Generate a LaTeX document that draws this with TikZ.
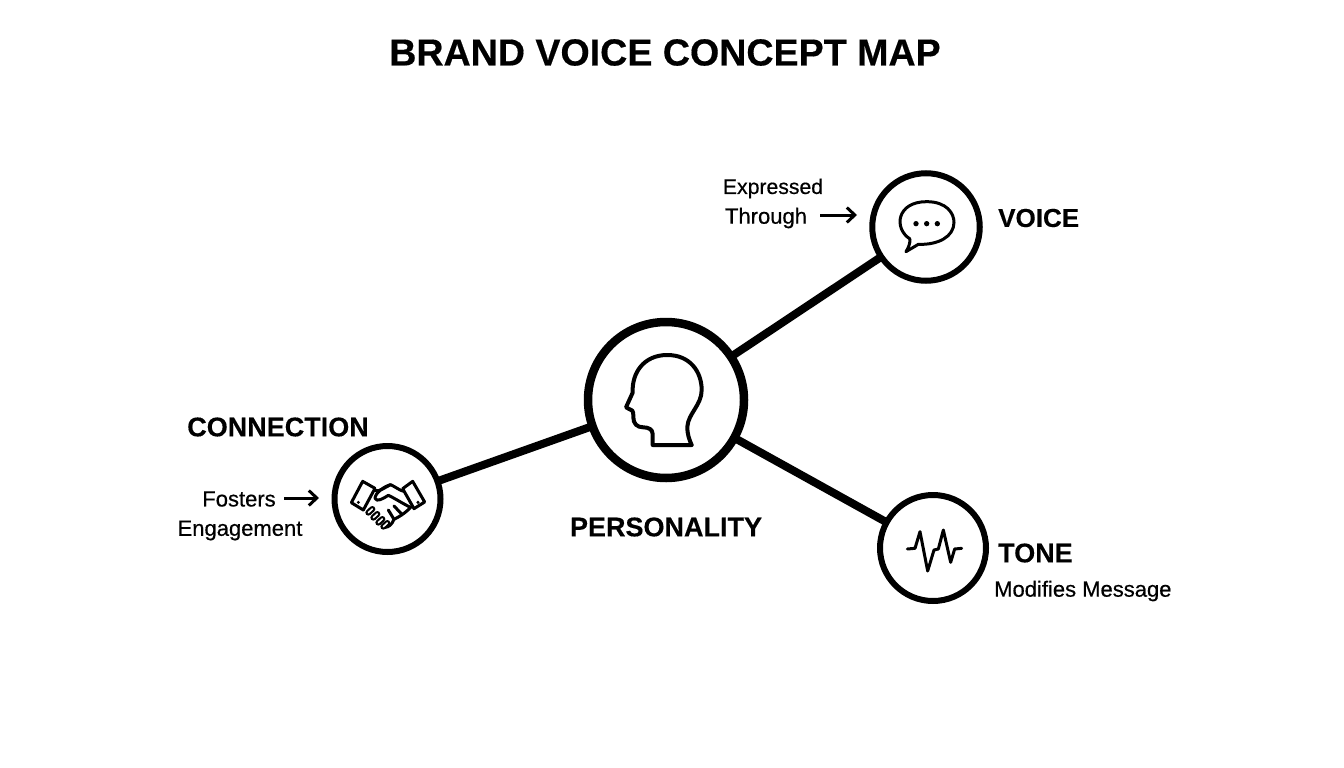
\documentclass[tikz,border=0pt]{standalone}
\usepackage{fontspec}
\setmainfont{Liberation Sans}
\newcommand{\fsz}[1]{\fontsize{#1}{#1}\selectfont}
\usetikzlibrary{arrows.meta}
\tikzset{x=1pt,y=-1pt,
 hub/.style={circle,draw=black,fill=white,inner sep=0pt},
 link/.style={line width=8pt,black},
 ptr/.style={line width=3pt,black,-{Straight Barb[length=8pt,width=15pt,line width=3pt]}},
 ttl/.style={font=\bfseries\fsz{37.6}\addfontfeature{FakeBold=0.4},inner sep=0pt},
 head/.style={font=\bfseries\fsz{27}\addfontfeature{FakeBold=0.3},inner sep=0pt},
 small/.style={font=\fsz{22}\addfontfeature{FakeBold=0.5},inner sep=0pt,align=center},
 ico/.style={line width=3pt,line join=round,line cap=round,black}}
\begin{document}
\begin{tikzpicture}
\useasboundingbox (0,0) rectangle (1344,768);
\fill[white] (0,0) rectangle (1344,768);
\node[ttl] (title) at (665,52.5) {BRAND VOICE CONCEPT MAP};
\coordinate (pc) at (666,400);
\coordinate (cc) at (387.5,499);
\coordinate (vc) at (926,227);
\coordinate (tc) at (933,548);
\draw[link] (pc) -- (vc);
\draw[link] (pc) -- (tc);
\draw[link] (pc) -- (cc);
\node[hub,line width=8.5pt,minimum size=156pt] (personality) at (pc) {};
\node[hub,line width=6pt,minimum size=106pt] (connection) at (cc) {};
\node[hub,line width=6pt,minimum size=107.5pt] (voice) at (vc) {};
\node[hub,line width=6pt,minimum size=106pt] (tone) at (tc) {};
% head
\begin{scope}[shift={(580,310)},scale=1/3,ico,line width=4pt]
\draw (335,405) -- (218,405) -- (218,372) .. controls (218,358) and (205,352) .. (190,352)
 .. controls (170,352) and (160,340) .. (160,322) .. controls (160,312) and (160,305) .. (157,302)
 -- (138,292) -- (158,248) .. controls (155,190) and (190,135) .. (262,135)
 .. controls (330,135) and (365,185) .. (365,240) .. controls (365,285) and (325,310) .. (322,350)
 .. controls (321,370) and (328,390) .. (335,405);
\end{scope}
% speech bubble
\begin{scope}[shift={(860,165)},scale=1/3,ico,line width=3pt]
\draw (150,222) .. controls (100,190) and (110,110) .. (200,110)
 .. controls (260,110) and (282,145) .. (282,172)
 .. controls (282,215) and (235,240) .. (175,238) -- (138,260) .. controls (147,245) and (150,235) .. (150,222);
\fill (168,176) circle (8) (200,176) circle (8) (232,176) circle (8);
\end{scope}
% pulse
\begin{scope}[shift={(870,485)},scale=1/3,ico,line width=3pt]
\draw (112,192) -- (135,190) -- (150,140) -- (173,258) -- (192,195) -- (205,192) -- (220,135) -- (242,232) -- (254,192) -- (275,190);
\end{scope}
% handshake
\begin{scope}[shift={(320,430)},scale=1/3,ico,line width=3pt]
\draw (128,154) -- (165,175) -- (130,240) -- (94,218) -- cycle;
\draw (278,154) -- (314,216) -- (282,236) -- (248,176) -- cycle;
\draw (165,182) .. controls (180,185) and (195,172) .. (212,164) .. controls (225,170) and (240,182) .. (252,184);
\draw (212,164) .. controls (190,170) and (165,190) .. (165,205) .. controls (170,218) and (190,205) .. (205,196) .. controls (225,205) and (255,225) .. (272,232);
\draw (272,232) .. controls (255,250) and (235,262) .. (222,268) .. controls (215,285) and (205,292) .. (195,292);
\draw (205,240) -- (222,268) (222,228) -- (245,252);
\foreach \a/\b in {145/245,160/260,175/275,190/287}{
 \draw[line width=6pt] (\a,\b+3) -- (\a+12,\b-8);
 \draw[white,line width=1.6pt] (\a,\b+3) -- (\a+12,\b-8);
}
\fill (115,217) circle (5) (294,217) circle (5);
\end{scope}
\node[head] (clabel) at (278,427) {CONNECTION};
\node[head] (plabel) at (666,527) {PERSONALITY};
\node[head,anchor=west,font=\bfseries\fsz{26}\addfontfeature{FakeBold=0.3}] (vlabel) at (998,218) {VOICE};
\node[head,anchor=west] (tlabel) at (998,553) {TONE};
\node[small] (fosters) at (239,499) {Fosters};
\node[small] (engage) at (240,530.5) {Engagement};
\node[small,font=\fsz{21.2}\addfontfeature{FakeBold=0.5}] (expr) at (773,188.5) {Expressed};
\node[small] (thru) at (766,218) {Through};
\node[small,anchor=west] (mod) at (994,591) {Modifies Message};
\coordinate (a1) at (284,498); \coordinate (a2) at (319,498);
\coordinate (b1) at (820,215); \coordinate (b2) at (857,215);
\draw[ptr] (a1) -- (a2);
\draw[ptr] (b1) -- (b2);
\end{tikzpicture}
\end{document}
